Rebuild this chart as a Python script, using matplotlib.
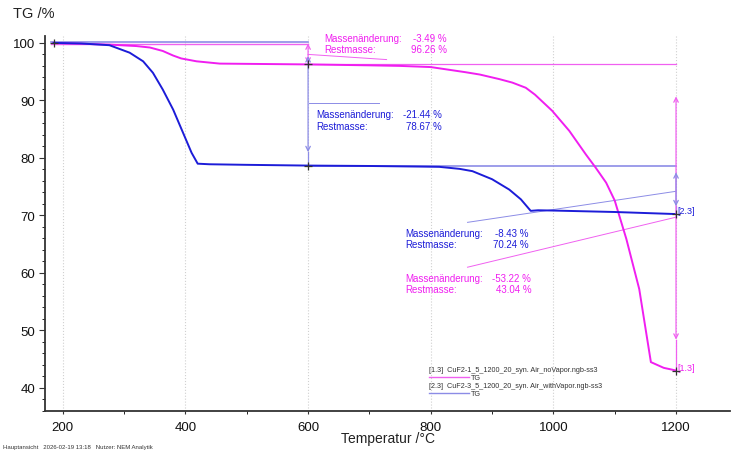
import matplotlib
matplotlib.use("Agg")
import matplotlib.pyplot as plt
from matplotlib.ticker import MultipleLocator

plt.rcParams['font.family'] = ['Liberation Sans', 'DejaVu Sans']

# [2.3] with vapor (blue)
temp_vapor = [185, 230, 276, 309, 331, 347, 363, 380, 396, 410, 420, 439, 500,
              600, 700, 780, 814, 847, 868, 900, 928, 947, 963, 975, 1000, 1100, 1200]
tg_vapor = [100.0, 99.9, 99.6, 98.3, 96.8, 94.8, 91.9, 88.4, 84.4, 80.9, 79.0, 78.9, 78.8,
            78.67, 78.6, 78.5, 78.45, 78.1, 77.7, 76.3, 74.5, 72.8, 70.8, 70.9, 70.85, 70.6, 70.24]

# [1.3] no vapor (magenta)
temp_novap = [185, 276, 320, 342, 363, 380, 393, 418, 456, 600, 700, 750, 800, 857, 880,
              912, 933, 955, 970, 998, 1026, 1053, 1069, 1086, 1100, 1119, 1140, 1153, 1159,
              1180, 1200]
tg_novap = [100.0, 99.7, 99.45, 99.2, 98.6, 97.8, 97.3, 96.8, 96.4, 96.26, 96.1, 96.0, 95.8,
            94.9, 94.5, 93.7, 93.1, 92.2, 91.0, 88.2, 84.7, 80.6, 78.3, 75.7, 72.6, 65.9, 57.2,
            48.5, 44.5, 43.5, 43.04]

legend_names = ["[1.3]  CuF2-1_5_1200_20_syn. Air_noVapor.ngb-ss3",
                "[2.3]  CuF2-3_5_1200_20_syn. Air_withVapor.ngb-ss3"]

BLUE = '#1c1cd8'
MAG = '#f01ef0'
LAV = '#8c8ce6'
PINK = '#f060f0'

W, H = 737, 452
fig = plt.figure(figsize=(W / 100, H / 100), dpi=100)
ax = fig.add_axes([45 / W, 1 - 412 / H, (730 - 45) / W, (412 - 37) / H])

ax.set_xlim(171, 1288)
ax.set_ylim(36, 101.2)

for s in ['top', 'right']:
    ax.spines[s].set_visible(False)
for s in ['left', 'bottom']:
    ax.spines[s].set_color('#333333')
    ax.spines[s].set_linewidth(1.3)

ax.xaxis.set_major_locator(MultipleLocator(200))
ax.xaxis.set_minor_locator(MultipleLocator(100))
ax.yaxis.set_major_locator(MultipleLocator(10))
ax.yaxis.set_minor_locator(MultipleLocator(2))
ax.tick_params(axis='both', labelsize=9.5, color='#333333', labelcolor='#111111')
ax.tick_params(axis='x', which='both', length=2.5, pad=4.5)
ax.tick_params(axis='y', which='major', length=4, pad=3)
ax.tick_params(axis='y', which='minor', length=2.5)
ax.grid(axis='x', which='major', color='#d0d0d0', linestyle=':', linewidth=0.8)

# curves
ax.plot(temp_novap, tg_novap, color=MAG, lw=1.4, zorder=3)
ax.plot(temp_vapor, tg_vapor, color=BLUE, lw=1.4, zorder=3)

# step reference lines
ax.plot([180, 600], [100.1, 100.1], color=LAV, lw=1.2)
ax.plot([180, 600], [99.85, 99.85], color=PINK, lw=1.0)
ax.plot([600, 1200], [96.26, 96.26], color=PINK, lw=0.9)
ax.plot([600, 1200], [78.67, 78.67], color=LAV, lw=1.2)


def darrow(x, y0, y1, color):
    ax.annotate('', xy=(x, y0), xytext=(x, y1),
                arrowprops=dict(arrowstyle='<->', color=color, lw=0.9,
                                mutation_scale=8, shrinkA=0, shrinkB=0))


darrow(600, 99.9, 96.4, PINK)
darrow(600, 97.7, 81.0, LAV)
ax.plot([600, 600], [81.0, 78.67], color=LAV, lw=0.9)
darrow(1200, 90.7, 48.4, PINK)
ax.plot([1200, 1200], [48.4, 43.04], color=PINK, lw=0.9)
darrow(1200, 77.5, 71.6, LAV)
ax.plot([1200, 1200], [71.6, 70.24], color=LAV, lw=0.9)

# markers
ax.plot([185, 600, 600, 1200, 1200], [100, 96.26, 78.67, 70.24, 43.04], '+',
        color='#333333', ms=6, mew=0.9, zorder=4)

# leader lines
ax.plot([600, 728], [98.0, 97.1], color=PINK, lw=0.7)
ax.plot([602, 716], [89.5, 89.5], color=LAV, lw=0.7)
ax.plot([860, 1200], [68.8, 74.2], color=LAV, lw=0.7)
ax.plot([860, 1200], [61.0, 69.7], color=PINK, lw=0.7)


def block(x, xr, y, dy, change, rest, color):
    ax.text(x, y, 'Massenänderung:', color=color, fontsize=7, va='center', clip_on=False)
    ax.text(xr, y, change, color=color, fontsize=7, va='center', ha='right', clip_on=False)
    ax.text(x, y - dy, 'Restmasse:', color=color, fontsize=7, va='center', clip_on=False)
    ax.text(xr, y - dy, rest, color=color, fontsize=7, va='center', ha='right', clip_on=False)


block(626, 826, 100.8, 1.9, '-3.49 %', '96.26 %', MAG)
block(613, 818, 87.6, 2.0, '-21.44 %', '78.67 %', BLUE)
block(759, 959, 67.0, 1.9, '-8.43 %', '70.24 %', BLUE)
block(759, 964, 59.1, 1.9, '-53.22 %', '43.04 %', MAG)

ax.text(1203, 70.8, '[2.3]', color=BLUE, fontsize=6.5, va='center')
ax.text(1203, 43.6, '[1.3]', color=MAG, fontsize=6.5, va='center')


# legend box (pixel positions)
def fx(px):
    return px / W


def fy(py):
    return 1 - py / H


for i, (name, col) in enumerate(zip(legend_names, [PINK, LAV])):
    y0 = 371 + i * 16
    fig.text(fx(429), fy(y0), name, fontsize=5.2, va='center', color='#333333')
    fig.add_artist(plt.Line2D([fx(429), fx(469)], [fy(y0 + 7), fy(y0 + 7)], color=col, lw=1.0))
    fig.text(fx(471), fy(y0 + 8), 'TG', fontsize=5.2, va='center', color='#333333')

fig.text(fx(13), fy(14), 'TG /%', fontsize=10.5, va='center', color='#222222')
fig.text(fx(388), fy(439), 'Temperatur /°C', fontsize=10, va='center', ha='center', color='#222222')
fig.text(fx(3), fy(448), 'Hauptansicht   2026-02-19 13:18   Nutzer: NEM Analytik',
         fontsize=4.3, va='center', color='#333333')

fig.savefig('out.png', dpi=100)
